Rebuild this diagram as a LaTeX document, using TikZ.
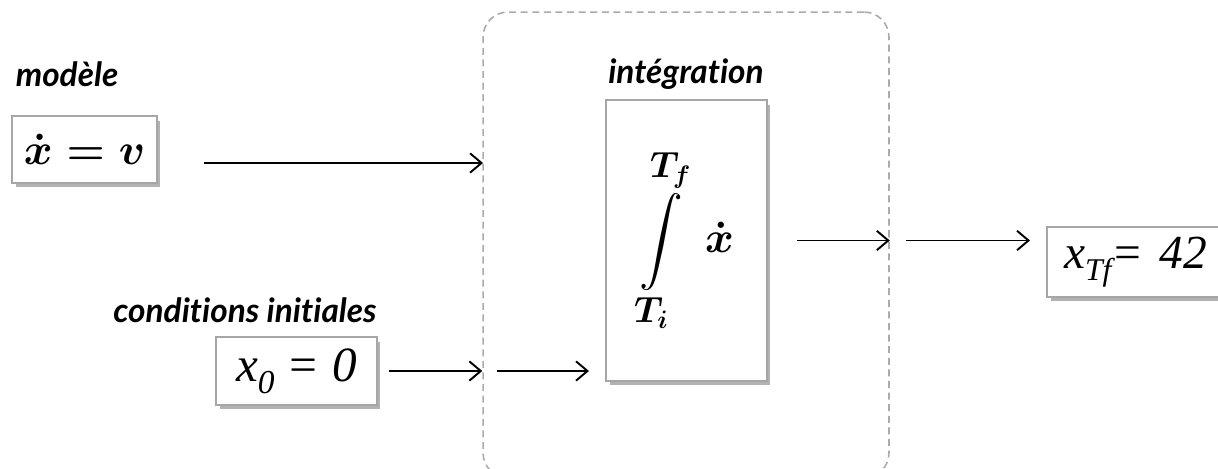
\documentclass[tikz,border=0pt]{standalone}
\usepackage{amsmath}
\usepackage{fontspec}
\setmainfont{Liberation Serif}
\setsansfont{Lato}[Ligatures=NoCommon]
\newfontfamily\tnrit{Liberation Serif Italic}
\usepackage{tikz}
\usetikzlibrary{arrows.meta,positioning,shadows}
\definecolor{boxgray}{HTML}{A6A6A6}
\definecolor{dashgray}{HTML}{ABABAB}
\tikzset{
  mathbox/.style={draw=boxgray,line width=1.2pt,fill=white,inner sep=0pt,
    drop shadow={shadow xshift=0.07cm,shadow yshift=-0.09cm,fill=black!55,opacity=0.55}},
  textmath/.style={font=\tnrit\fontsize{#1}{32}\selectfont},
  textmath/.default=28,
  grouplabel/.style={font=\sffamily\bfseries\itshape\fontsize{19}{22}\selectfont},
  groupbox/.style={draw=dashgray,line width=0.9pt,dash pattern=on 4pt off 2.6pt,
    rounded corners=0.5cm,inner sep=0pt},
  flow/.style={line width=1.1pt,-{Straight Barb[length=6.5pt,width=11pt,line width=1.1pt]}}
}
\begin{document}
\begin{tikzpicture}[x=0.02cm,y=-0.02cm]
        \useasboundingbox (0,0) rectangle (1218,469);
        \clip (0,0) rectangle (1218,469);
        % dashed integration block
        \node[groupbox,minimum width=8.12cm,minimum height=9.32cm] (group) at (686,245) {};
        % boxes
        \node[mathbox,minimum width=2.9cm,minimum height=1.34cm,font=\boldmath\fontsize{33}{36}\selectfont] (model) at (84.5,149.5) {$\dot{x}=v$};
        \node[mathbox,textmath,minimum width=3.22cm,minimum height=1.36cm] (init) at (296.5,371) {x\raisebox{-0.25em}{\fontsize{19}{20}\selectfont 0} = 0};
        \node[mathbox,minimum width=3.22cm,minimum height=5.62cm,font=\boldmath\fontsize{30}{33}\selectfont] (integ) at (686.5,240.5) {$\displaystyle\int\limits_{T_i}^{T_f}\;\dot{x}$};
        \node[mathbox,textmath=27,anchor=west,minimum height=1.4cm,text width=3.8cm,inner xsep=0.34cm,align=left] (result) at (1046,262) {x\raisebox{-0.25em}{\fontsize{18}{20}\selectfont Tf}= 42};
        % labels
        \node[grouplabel] (modellbl) at (67,74) {modèle};
        \node[grouplabel] (integlbl) at (686,74) {intégration};
        \node[grouplabel] (initlbl) at (245,310) {conditions initiales};
        % arrows
        \coordinate (in1) at (483,163);
        \draw[flow,shorten <=0.92cm] (model.east |- in1) -- (in1);
        \draw[flow,shorten <=0.22cm] (init.east) -- (init.east -| group.west);
        \draw[flow,shorten <=0.3cm,shorten >=0.32cm] (init.east -| group.west) -- (init.east -| integ.west);
        \draw[flow,shorten <=0.58cm] (integ.east) -- (integ.east -| group.east);
        \draw[flow,shorten <=0.32cm,shorten >=0.32cm] (integ.east -| group.east) -- (integ.east -| result.west);
      \end{tikzpicture}
\end{document}
